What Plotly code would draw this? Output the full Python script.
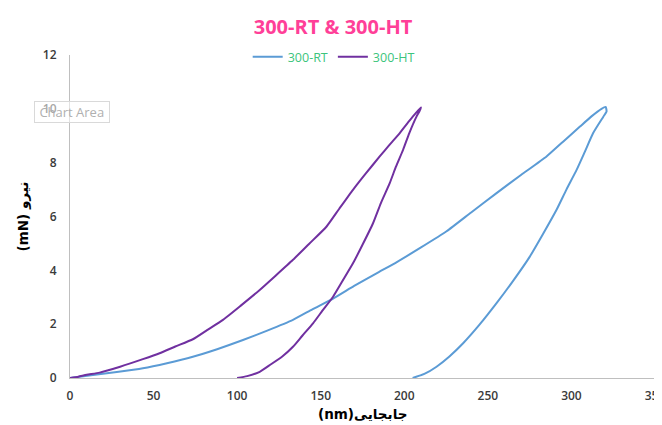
import plotly.graph_objects as go

# 300-RT (blue): loading then unloading
rt_x = [0, 13.7, 28, 43.6, 58, 73.5, 88, 103.5, 118, 133.4, 145, 157.4, 170, 183.4, 195.3,
        210, 225.3, 240, 255.2, 270, 285.1, 295, 305.1, 312, 318, 320.5,
        321, 319, 313, 308, 303.1, 297, 291.1, 283, 275.1, 265, 255.2, 245, 235.2, 227,
        219.3, 212, 205]
rt_y = [0, 0.11, 0.22, 0.36, 0.55, 0.79, 1.07, 1.41, 1.76, 2.16, 2.55, 2.95, 3.42, 3.89, 4.3,
        4.85, 5.45, 6.15, 6.87, 7.55, 8.23, 8.78, 9.34, 9.72, 10.0, 10.07,
        9.9, 9.7, 9.1, 8.4, 7.73, 7.0, 6.25, 5.35, 4.51, 3.6, 2.78, 1.98, 1.29, 0.8,
        0.42, 0.15, 0]

# 300-HT (purple): loading then unloading
ht_x = [0, 5, 10, 17.7, 30, 43.6, 53.6, 63, 73.5, 82, 91.5, 102, 113.5, 123, 133.4, 143,
        153.4, 161, 169.3, 177, 185.3, 191, 197.3, 203, 207, 210,
        209, 207.3, 203, 199.3, 195, 191.3, 186, 181.3, 175, 169.3, 163, 157.4, 151,
        145.4, 139, 133.4, 127, 120, 113.5, 106, 100]
ht_y = [0, 0.05, 0.12, 0.2, 0.42, 0.7, 0.92, 1.17, 1.44, 1.78, 2.16, 2.68, 3.27, 3.8, 4.39, 4.98,
        5.62, 6.28, 6.99, 7.6, 8.23, 8.65, 9.1, 9.55, 9.85, 10.05,
        9.9, 9.71, 9.1, 8.48, 7.85, 7.24, 6.5, 5.75, 4.95, 4.26, 3.6, 3.02, 2.5,
        2.03, 1.57, 1.16, 0.8, 0.5, 0.23, 0.07, 0]

series_names = ["300-RT", "300-HT"]
x_ticks = [0, 50, 100, 150, 200, 250, 300, 350]
y_ticks = [0, 2, 4, 6, 8, 10, 12]

fig = go.Figure()
fig.add_trace(go.Scatter(x=rt_x, y=rt_y, mode="lines", name=series_names[0],
                         line=dict(color="#5B9BD5", width=2, shape="spline", smoothing=0.5)))
fig.add_trace(go.Scatter(x=ht_x, y=ht_y, mode="lines", name=series_names[1],
                         line=dict(color="#7030A0", width=2, shape="spline", smoothing=0.5)))

W, H = 654, 417  # page body adds an 8px offset
tickfont = dict(family="Open Sans", size=12, color="#3A3A3A", weight=600)
fig.update_layout(
    width=W, height=H,
    margin=dict(l=62, r=7, t=47, b=47, autoexpand=False),
    paper_bgcolor="white", plot_bgcolor="white",
    title=dict(text="<b>300-RT &amp; 300-HT</b>", x=325 / W, xanchor="center",
               y=1 - 19 / H, yanchor="middle",
               font=dict(family="Open Sans", size=20, color="#FF3F98")),
    showlegend=True,
    legend=dict(orientation="h", x=0.498, xref="container", xanchor="center",
                y=1 - 49 / H, yref="container", yanchor="middle",
                font=dict(family="Open Sans", size=12.5, color="#3CC47C"),
                itemwidth=30, tracegroupgap=0),
    xaxis=dict(range=[0, 350], tickvals=x_ticks, showgrid=False, zeroline=False,
               showline=True, linecolor="#BFBFBF", linewidth=1, ticks="",
               tickfont=tickfont, ticklabeloverflow="allow", ticklabelstandoff=7),
    yaxis=dict(range=[0, 12], tickvals=y_ticks, showgrid=False, zeroline=False,
               showline=True, linecolor="#BFBFBF", linewidth=1, ticks="",
               tickfont=tickfont, ticklabelstandoff=10),
    annotations=[
        dict(text="<b>(nm)جابجایی</b>", xref="paper", yref="paper",
             x=0.5, y=-0.1115, xanchor="center", yanchor="middle", showarrow=False,
             font=dict(family="DejaVu Sans", size=13.5, color="#000000")),
        dict(text="<b>(mN) نیرو</b>", xref="paper", yref="paper",
             x=-0.082, y=0.5, xanchor="center", yanchor="middle", showarrow=False,
             textangle=-90,
             font=dict(family="DejaVu Sans", size=13.5, color="#000000")),
        dict(text="&nbsp;Chart Area&nbsp;", xref="paper", yref="paper",
             x=0.0034, y=0.825, xanchor="center", yanchor="middle",
             showarrow=False, bgcolor="rgba(255,255,255,0.55)",
             bordercolor="#D9D9D9", borderwidth=1, borderpad=1,
             font=dict(family="Open Sans", size=13, color="#B0B0B0")),
    ],
)

fig.write_html("out.html")
